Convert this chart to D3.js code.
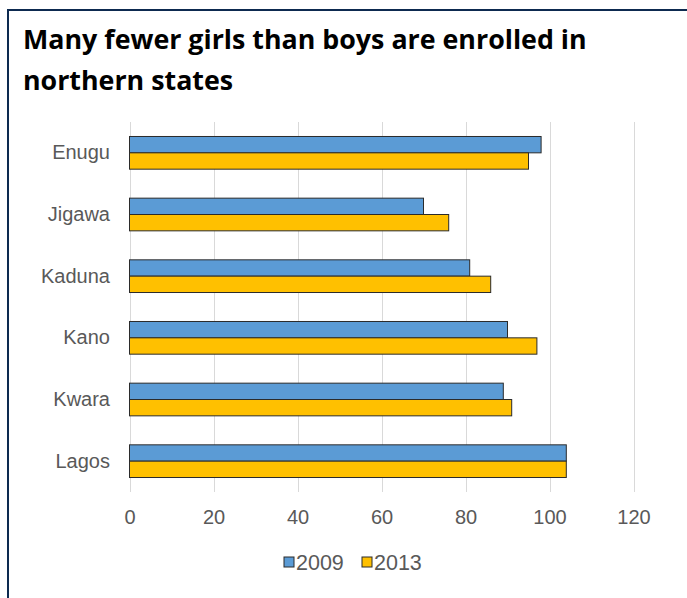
<!DOCTYPE html>
<html>
<head>
<meta charset="utf-8">
<script src="https://cdn.jsdelivr.net/npm/d3@7"></script>
<style>
  body { margin: 0; background: #fff; }
  svg { display: block; }
</style>
</head>
<body>
<svg id="chart" width="687" height="598"></svg>
<script>
// enrolment data
var states = ["Enugu", "Jigawa", "Kaduna", "Kano", "Kwara", "Lagos"];
var years = ["2009", "2013"];
var values2009 = [98, 70, 81, 90, 89, 104];
var values2013 = [95, 76, 86, 97, 91, 104];
var xTicks = [0, 20, 40, 60, 80, 100, 120];
var colors = ["#5b9bd5", "#ffc000"];

var svg = d3.select("#chart");
var labelFont = "'Liberation Sans', Arial, sans-serif";

// outer frame (runs off the right / bottom edge)
svg.append("path")
  .attr("d", "M8,700 L8,10 L700,10")
  .attr("fill", "none")
  .attr("stroke", "#0d2a50")
  .attr("stroke-width", 2);

// title
var title = svg.append("text")
  .attr("font-family", "'Open Sans', sans-serif")
  .attr("font-weight", "bold")
  .attr("font-size", 26.8)
  .attr("fill", "#000");
title.append("tspan").attr("x", 23).attr("y", 49).text("Many fewer girls than boys are enrolled in");
title.append("tspan").attr("x", 23).attr("y", 90).text("northern states");

var plotLeft = 129.5, plotRight = 633.5, plotTop = 122, plotBottom = 492;

var x = d3.scaleLinear().domain([0, 120]).range([plotLeft, plotRight]);
var y = d3.scaleBand().domain(states).range([plotTop, plotBottom])
  .paddingInner(0.47).paddingOuter(0.235);
var ySub = d3.scaleBand().domain(years).range([0, y.bandwidth()]);

// gridlines
svg.append("g").selectAll("line")
  .data(xTicks)
  .join("line")
  .attr("x1", function(d) { return Math.round(x(d)) + 0.5; })
  .attr("x2", function(d) { return Math.round(x(d)) + 0.5; })
  .attr("y1", plotTop)
  .attr("y2", plotBottom)
  .attr("stroke", "#d9d9d9")
  .attr("stroke-width", 1);

// x axis labels
var xAxis = svg.append("g")
  .attr("transform", "translate(0," + plotBottom + ")")
  .call(d3.axisBottom(x).tickValues(xTicks).tickSize(0).tickPadding(18));
xAxis.select(".domain").remove();
xAxis.selectAll("text")
  .attr("font-family", labelFont)
  .attr("font-size", 20)
  .attr("fill", "#595959");

// y axis labels
var yAxis = svg.append("g")
  .attr("transform", "translate(" + 110 + ",0)")
  .call(d3.axisLeft(y).tickSize(0).tickPadding(0));
yAxis.select(".domain").remove();
yAxis.selectAll("text")
  .attr("font-family", labelFont)
  .attr("font-size", 20)
  .attr("fill", "#595959");

// bars
var series = [values2009, values2013];
series.forEach(function(vals, si) {
  svg.append("g").selectAll("rect")
    .data(states)
    .join("rect")
    .attr("x", x(0))
    .attr("y", function(d) { return y(d) + ySub(years[si]); })
    .attr("width", function(d, i) { return x(vals[i]) - x(0); })
    .attr("height", ySub.bandwidth())
    .attr("fill", colors[si])
    .attr("stroke", "#2b2b2b")
    .attr("stroke-width", 1);
});

// legend
var legendItems = [{ label: years[0], x: 284 }, { label: years[1], x: 362 }];
var legend = svg.append("g").attr("transform", "translate(0,562)");
legendItems.forEach(function(item, i) {
  legend.append("rect")
    .attr("x", item.x).attr("y", -5)
    .attr("width", 10).attr("height", 10)
    .attr("fill", colors[i])
    .attr("stroke", "#2b2b2b")
    .attr("stroke-width", 1);
  legend.append("text")
    .attr("x", item.x + 12).attr("y", 0)
    .attr("dy", "0.35em")
    .attr("font-family", labelFont)
    .attr("font-size", 21.5)
    .attr("fill", "#595959")
    .text(item.label);
});
</script>
</body>
</html>
